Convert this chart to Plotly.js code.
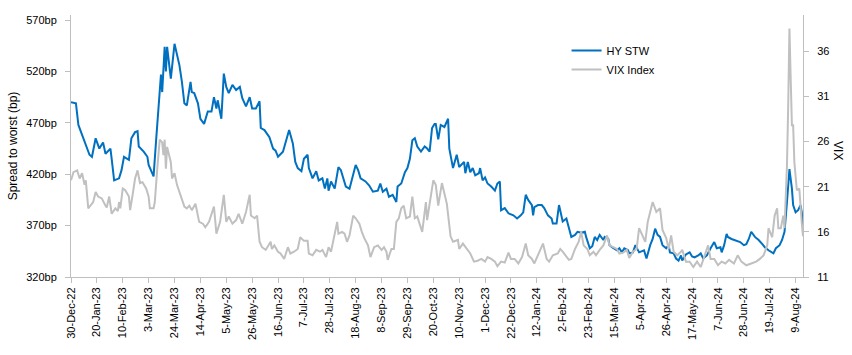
<!DOCTYPE html>
<html>
<head>
<meta charset="utf-8">
<script src="https://cdn.plot.ly/plotly-3.0.1.min.js"></script>
<style>html,body{margin:0;padding:0;background:#fff;}#chart{width:852px;height:355px;}</style>
</head>
<body>
<div id="chart"></div>
<script>
// HY spread-to-worst (bp), left axis
const hyDates = ["2022-12-30","2023-01-03","2023-01-05","2023-01-08","2023-01-11","2023-01-14","2023-01-16","2023-01-19","2023-01-22","2023-01-25","2023-01-27","2023-01-31","2023-02-01","2023-02-03","2023-02-07","2023-02-09","2023-02-11","2023-02-14","2023-02-15","2023-02-17","2023-02-20","2023-02-22","2023-02-23","2023-02-27","2023-03-02","2023-03-03","2023-03-06","2023-03-07","2023-03-09","2023-03-11","2023-03-13","2023-03-14","2023-03-15","2023-03-16","2023-03-17","2023-03-18","2023-03-21","2023-03-23","2023-03-24","2023-03-28","2023-03-30","2023-04-01","2023-04-03","2023-04-06","2023-04-07","2023-04-09","2023-04-12","2023-04-14","2023-04-17","2023-04-20","2023-04-23","2023-04-25","2023-04-27","2023-04-28","2023-05-01","2023-05-03","2023-05-05","2023-05-07","2023-05-10","2023-05-13","2023-05-16","2023-05-18","2023-05-21","2023-05-24","2023-05-26","2023-05-29","2023-06-01","2023-06-02","2023-06-05","2023-06-09","2023-06-12","2023-06-14","2023-06-16","2023-06-20","2023-06-22","2023-06-25","2023-06-28","2023-06-30","2023-07-02","2023-07-05","2023-07-07","2023-07-10","2023-07-11","2023-07-14","2023-07-17","2023-07-19","2023-07-22","2023-07-24","2023-07-26","2023-07-27","2023-07-29","2023-08-01","2023-08-04","2023-08-06","2023-08-10","2023-08-13","2023-08-18","2023-08-20","2023-08-22","2023-08-26","2023-08-29","2023-09-01","2023-09-05","2023-09-07","2023-09-09","2023-09-12","2023-09-14","2023-09-17","2023-09-20","2023-09-21","2023-09-24","2023-09-27","2023-09-29","2023-10-01","2023-10-03","2023-10-05","2023-10-07","2023-10-10","2023-10-13","2023-10-15","2023-10-17","2023-10-19","2023-10-21","2023-10-22","2023-10-24","2023-10-26","2023-10-29","2023-11-01","2023-11-02","2023-11-03","2023-11-05","2023-11-08","2023-11-10","2023-11-14","2023-11-15","2023-11-17","2023-11-19","2023-11-21","2023-11-23","2023-11-26","2023-11-27","2023-11-29","2023-12-01","2023-12-03","2023-12-06","2023-12-09","2023-12-11","2023-12-13","2023-12-14","2023-12-17","2023-12-20","2023-12-24","2023-12-27","2023-12-30","2024-01-01","2024-01-03","2024-01-05","2024-01-08","2024-01-09","2024-01-10","2024-01-13","2024-01-16","2024-01-18","2024-01-21","2024-01-24","2024-01-25","2024-01-28","2024-01-30","2024-02-02","2024-02-05","2024-02-07","2024-02-09","2024-02-12","2024-02-14","2024-02-17","2024-02-20","2024-02-21","2024-02-23","2024-02-24","2024-02-26","2024-02-28","2024-03-01","2024-03-03","2024-03-06","2024-03-07","2024-03-10","2024-03-11","2024-03-13","2024-03-17","2024-03-19","2024-03-21","2024-03-23","2024-03-26","2024-03-27","2024-03-30","2024-04-01","2024-04-04","2024-04-08","2024-04-10","2024-04-13","2024-04-15","2024-04-17","2024-04-19","2024-04-21","2024-04-23","2024-04-26","2024-04-28","2024-04-29","2024-05-02","2024-05-04","2024-05-06","2024-05-08","2024-05-09","2024-05-12","2024-05-15","2024-05-17","2024-05-19","2024-05-22","2024-05-24","2024-05-26","2024-05-29","2024-06-01","2024-06-04","2024-06-06","2024-06-09","2024-06-10","2024-06-12","2024-06-14","2024-06-15","2024-06-18","2024-06-21","2024-06-25","2024-06-28","2024-06-30","2024-07-02","2024-07-04","2024-07-07","2024-07-10","2024-07-13","2024-07-15","2024-07-18","2024-07-22","2024-07-24","2024-07-27","2024-07-29","2024-07-31","2024-08-02","2024-08-03","2024-08-04","2024-08-06","2024-08-07","2024-08-09","2024-08-11","2024-08-13","2024-08-14","2024-08-15"];
const hyValues = [490,489,468,458,447,439,437,455,445,451,440,445,435,414,416,424,437,435,434,455,461,462,447,442,437,429,421,418,452,487,517,500,526,544,520,544,513,538,547,526,510,489,487,510,500,499,489,474,469,481,481,495,484,492,474,518,505,499,507,502,505,494,486,495,484,484,491,465,463,456,445,443,437,442,450,463,450,432,426,423,435,439,426,416,423,414,416,406,416,404,413,406,427,424,408,406,429,424,416,413,409,403,404,411,403,406,398,400,393,408,411,422,426,435,453,455,447,442,447,445,442,465,469,469,454,468,466,474,445,437,426,439,427,432,421,432,422,426,419,421,426,414,417,411,408,404,411,413,385,387,382,380,377,380,383,400,395,390,380,388,390,390,387,380,377,372,372,390,374,377,369,359,361,364,363,364,359,352,348,350,359,356,361,356,359,357,351,349,346,348,344,348,346,343,344,351,344,346,338,351,357,367,361,359,351,348,351,344,343,338,336,341,336,342,344,340,339,341,343,338,341,348,354,348,349,344,351,362,359,357,356,354,351,352,357,364,359,356,352,349,346,343,348,351,356,364,393,416,425,406,390,383,385,390,383,369];

// VIX Index, right axis
const vixDates = ["2022-12-30","2023-01-01","2023-01-04","2023-01-06","2023-01-08","2023-01-10","2023-01-11","2023-01-13","2023-01-17","2023-01-19","2023-01-21","2023-01-24","2023-01-27","2023-01-28","2023-01-30","2023-02-01","2023-02-04","2023-02-06","2023-02-07","2023-02-08","2023-02-10","2023-02-12","2023-02-15","2023-02-16","2023-02-18","2023-02-20","2023-02-22","2023-02-24","2023-02-26","2023-03-01","2023-03-03","2023-03-04","2023-03-07","2023-03-08","2023-03-10","2023-03-12","2023-03-14","2023-03-15","2023-03-16","2023-03-17","2023-03-18","2023-03-21","2023-03-22","2023-03-24","2023-03-26","2023-03-29","2023-04-01","2023-04-03","2023-04-05","2023-04-07","2023-04-10","2023-04-13","2023-04-16","2023-04-18","2023-04-21","2023-04-25","2023-04-26","2023-04-27","2023-04-30","2023-05-03","2023-05-05","2023-05-07","2023-05-10","2023-05-13","2023-05-15","2023-05-18","2023-05-21","2023-05-24","2023-05-25","2023-05-28","2023-05-30","2023-06-01","2023-06-03","2023-06-06","2023-06-10","2023-06-11","2023-06-13","2023-06-16","2023-06-18","2023-06-21","2023-06-24","2023-06-26","2023-06-29","2023-07-02","2023-07-04","2023-07-07","2023-07-10","2023-07-11","2023-07-14","2023-07-17","2023-07-20","2023-07-22","2023-07-25","2023-07-27","2023-07-29","2023-08-01","2023-08-03","2023-08-04","2023-08-07","2023-08-09","2023-08-11","2023-08-13","2023-08-16","2023-08-18","2023-08-19","2023-08-21","2023-08-23","2023-08-25","2023-08-28","2023-08-30","2023-09-02","2023-09-05","2023-09-08","2023-09-10","2023-09-12","2023-09-13","2023-09-16","2023-09-18","2023-09-20","2023-09-22","2023-09-24","2023-09-26","2023-09-28","2023-10-01","2023-10-03","2023-10-05","2023-10-07","2023-10-10","2023-10-11","2023-10-14","2023-10-15","2023-10-17","2023-10-20","2023-10-22","2023-10-24","2023-10-27","2023-10-30","2023-10-31","2023-11-03","2023-11-05","2023-11-09","2023-11-10","2023-11-13","2023-11-16","2023-11-19","2023-11-22","2023-11-25","2023-11-28","2023-12-01","2023-12-03","2023-12-06","2023-12-09","2023-12-11","2023-12-14","2023-12-17","2023-12-20","2023-12-22","2023-12-25","2023-12-28","2023-12-31","2024-01-03","2024-01-05","2024-01-08","2024-01-10","2024-01-13","2024-01-17","2024-01-20","2024-01-22","2024-01-25","2024-01-29","2024-01-31","2024-02-02","2024-02-07","2024-02-09","2024-02-12","2024-02-15","2024-02-17","2024-02-19","2024-02-22","2024-02-24","2024-02-27","2024-02-29","2024-03-03","2024-03-06","2024-03-09","2024-03-11","2024-03-14","2024-03-17","2024-03-19","2024-03-22","2024-03-25","2024-03-27","2024-03-30","2024-04-02","2024-04-04","2024-04-07","2024-04-09","2024-04-11","2024-04-14","2024-04-15","2024-04-18","2024-04-21","2024-04-23","2024-04-26","2024-04-28","2024-04-30","2024-05-02","2024-05-05","2024-05-08","2024-05-09","2024-05-12","2024-05-15","2024-05-18","2024-05-21","2024-05-24","2024-05-26","2024-05-30","2024-06-01","2024-06-04","2024-06-07","2024-06-10","2024-06-13","2024-06-16","2024-06-20","2024-06-23","2024-06-26","2024-06-30","2024-07-04","2024-07-08","2024-07-11","2024-07-14","2024-07-17","2024-07-18","2024-07-21","2024-07-23","2024-07-25","2024-07-26","2024-07-28","2024-07-30","2024-07-31","2024-08-02","2024-08-03","2024-08-04","2024-08-05","2024-08-06","2024-08-07","2024-08-08","2024-08-10","2024-08-12","2024-08-14","2024-08-15"];
const vixValues = [21.7,22.6,22.8,21.9,22.5,21.2,21.7,18.6,19.3,20.4,19.9,19.7,18.9,18.7,19.9,18.0,18.6,18.3,19.3,18.6,20.8,20.6,19.9,18.4,20.1,21.9,22.8,21.4,21.5,20.8,19.9,18.6,18.6,19.3,23.0,26.2,25.9,24.5,26.2,23.0,25.4,23.7,21.9,22.5,21.2,19.9,18.8,18.6,18.9,18.4,19.1,17.1,16.9,16.5,17.1,18.8,17.5,15.8,17.1,20.1,17.1,17.7,16.9,17.3,18.0,16.9,18.2,20.1,17.8,17.5,17.8,14.9,14.3,14.0,14.9,14.1,14.5,13.8,13.6,13.0,14.3,13.6,13.8,14.1,15.4,15.0,15.0,13.6,13.4,14.0,13.8,14.0,13.2,14.3,13.8,16.0,17.1,15.8,16.0,15.8,14.9,15.6,17.8,17.5,17.3,16.9,16.0,15.3,14.5,13.2,14.3,14.5,14.0,14.3,13.8,12.9,14.1,14.1,17.1,17.5,18.6,18.9,17.5,17.7,19.9,17.5,17.7,16.4,16.0,19.3,17.3,19.1,21.7,21.2,18.9,21.4,19.9,19.1,15.5,14.9,15.1,14.1,14.7,14.1,13.6,12.7,12.8,13.0,12.7,13.2,13.0,12.7,12.2,12.7,12.6,13.7,13.0,13.0,12.5,13.2,14.7,13.4,13.0,12.5,13.4,14.7,13.0,12.7,13.4,13.6,14.1,13.8,12.9,13.0,14.1,14.9,16.0,14.5,14.1,13.4,13.8,13.4,14.0,14.5,15.6,14.5,14.3,14.1,13.6,13.7,14.0,13.1,13.8,14.1,16.4,15.6,14.9,17.1,18.9,19.3,18.2,18.6,16.2,15.3,14.1,15.6,13.8,13.4,13.8,14.0,12.7,12.7,12.1,12.7,12.1,12.9,14.5,13.0,13.0,12.3,12.7,12.5,12.9,12.5,13.4,12.7,12.3,12.5,12.7,13.0,13.4,14.5,16.4,15.4,17.8,18.6,16.4,16.4,17.8,16.4,23.4,30.0,38.5,33.0,27.8,27.8,23.7,20.6,20.8,17.0,15.5];

const seriesNames = ["HY STW", "VIX Index"];
const leftTitle = "Spread to worst (bp)";
const rightTitle = "VIX";

const axisGrey = "#BFBFBF";
const font = {family: "Liberation Sans, Arial, sans-serif", size: 11, color: "#000"};

const traces = [
  {x: hyDates, y: hyValues, name: seriesNames[0], type: "scatter", mode: "lines",
   line: {color: "#0070C0", width: 2}, yaxis: "y"},
  {x: vixDates, y: vixValues, name: seriesNames[1], type: "scatter", mode: "lines",
   line: {color: "#C0C0C0", width: 2}, yaxis: "y2"}
];

const layout = {
  width: 852, height: 355,
  margin: {l: 70.7, r: 49.3, t: 15, b: 78.3, pad: 0},
  paper_bgcolor: "#fff", plot_bgcolor: "#fff",
  font: font,
  showlegend: true,
  legend: {x: 0.677, y: 0.92, xanchor: "left", yanchor: "top", bgcolor: "rgba(0,0,0,0)",
           font: font, tracegroupgap: 0},
  xaxis: {
    type: "date", range: ["2022-12-30", "2024-08-15"],
    tick0: "2022-12-30", dtick: 21 * 86400000, tickformat: "%-d-%b-%y",
    tickangle: -90, ticks: "outside", ticklen: 5, tickcolor: axisGrey,
    showline: true, linecolor: axisGrey, linewidth: 1,
    showgrid: false, zeroline: false, tickfont: font, automargin: false
  },
  yaxis: {
    range: [320, 575], tick0: 320, dtick: 50, ticksuffix: "bp",
    ticks: "outside", ticklen: 5, tickcolor: axisGrey,
    showline: true, linecolor: axisGrey, linewidth: 1,
    showgrid: false, zeroline: false, tickfont: font, automargin: false,
    ticklabelstandoff: 6,
    title: {text: leftTitle, font: {family: font.family, size: 12, color: "#000"}, standoff: 6}
  },
  yaxis2: {
    range: [11, 40], tick0: 11, dtick: 5, overlaying: "y", side: "right", anchor: "x",
    ticks: "outside", ticklen: 5, tickcolor: axisGrey,
    showline: true, linecolor: axisGrey, linewidth: 1,
    showgrid: false, zeroline: false, tickfont: font, automargin: false,
    ticklabelstandoff: 6
  },
  annotations: [
    {text: rightTitle, xref: "paper", yref: "paper", x: 1.048, y: 0.484,
     xanchor: "center", yanchor: "middle", textangle: 90, showarrow: false,
     font: {family: font.family, size: 12, color: "#000"}}
  ]
};

Plotly.newPlot("chart", traces, layout, {displayModeBar: false, staticPlot: true});
</script>
</body>
</html>
